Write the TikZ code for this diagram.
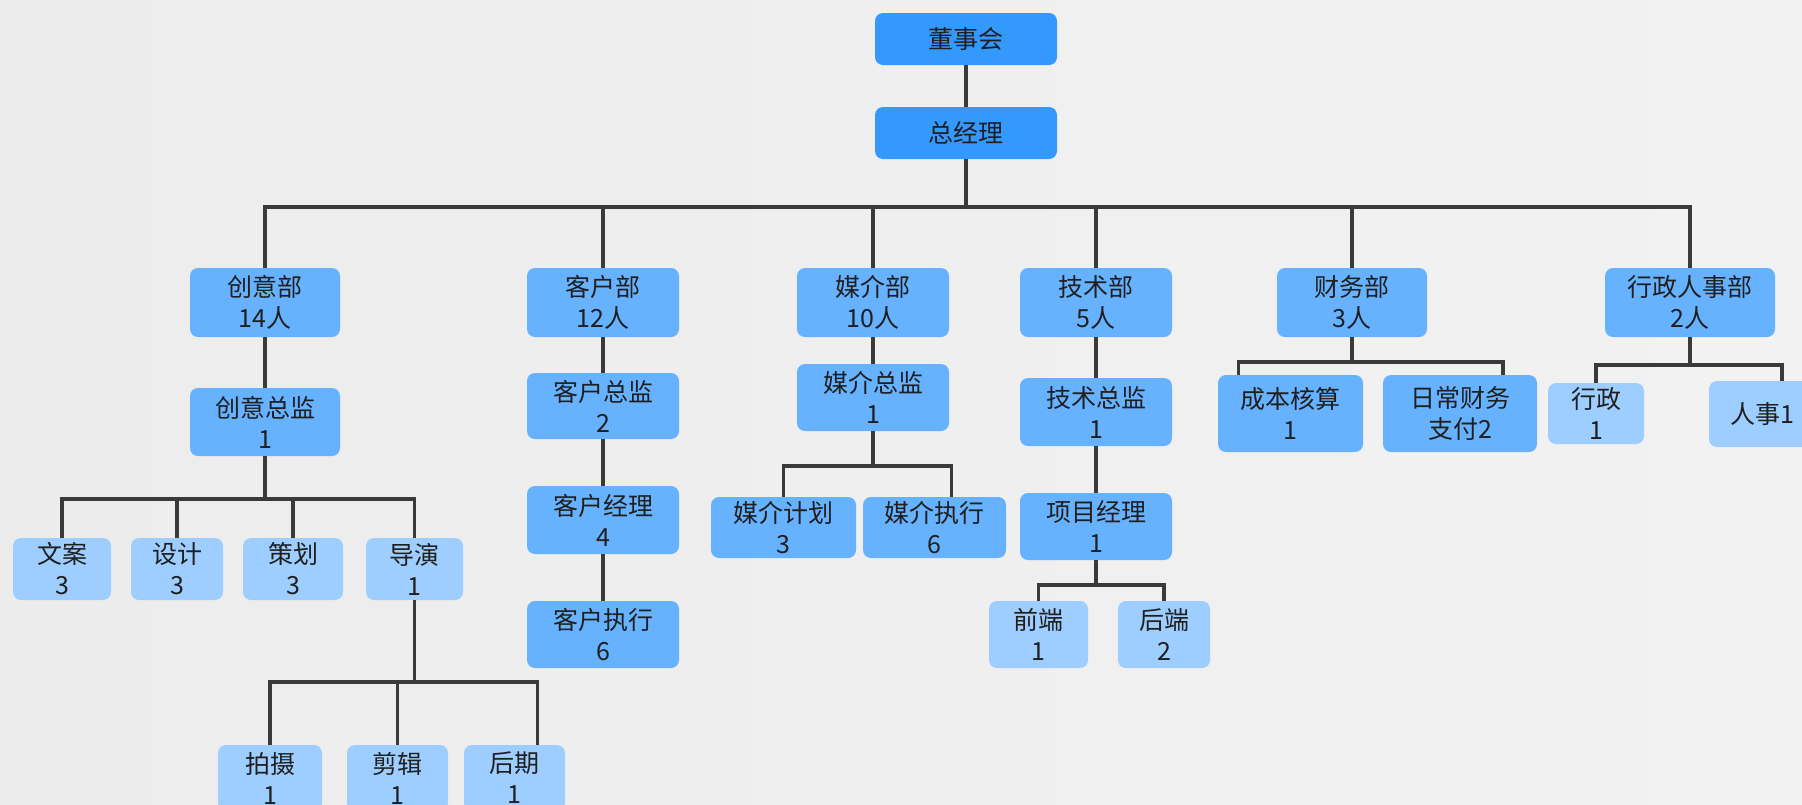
\documentclass[tikz,border=0pt]{standalone}
\usepackage{fontspec}
\setmainfont{Noto Sans CJK SC}

\begin{document}
\begin{tikzpicture}[x=1pt,y=-1pt]
        %%颜色与样式
        \definecolor{bg_left}{RGB}{236,236,236}
        \definecolor{bg_mid}{RGB}{249,249,249}
        \definecolor{bg_right}{RGB}{242,242,242}
        \definecolor{top_color}{RGB}{51,153,255}
        \definecolor{mid_color}{RGB}{102,178,255}
        \definecolor{leaf_color}{RGB}{157,206,255}
        \definecolor{line_color}{RGB}{58,58,58}
        \tikzset{box/.style = {rounded corners=8pt, inner sep=0, align=center, text=black!88,
                font=\fontsize{25}{31}\selectfont, minimum width=150, minimum height=68}}
        \tikzset{topbox/.style = {box, fill=top_color}}
        \tikzset{midbox/.style = {box, fill=mid_color}}
        \tikzset{leafbox/.style = {box, fill=leaf_color}}
        \tikzset{conn/.style = {draw=line_color, line width=3.5pt}}

        %%背景
        \useasboundingbox (0,0) rectangle (1802,804);
        \clip (0,0) rectangle (1802,804);
        \fill[left color=bg_left, middle color=bg_mid, right color=bg_right] (0,0) rectangle (1802,804);

        %%董事会 & 总经理
        \node[topbox, minimum width=182, minimum height=52] (dsh) at (966,39) {董事会};
        \node[topbox, minimum width=182, minimum height=52] (zjl) at (966,133) {总经理};

        %%各部门
        \node[midbox, minimum height=69] (cyb) at (265,302.5) {创意部\\14人};
        \node[midbox, minimum width=152, minimum height=69] (khb) at (603,302.5) {客户部\\12人};
        \node[midbox, minimum width=152, minimum height=69] (mjb) at (873,302.5) {媒介部\\10人};
        \node[midbox, minimum width=152, minimum height=69] (jsb) at (1096,302.5) {技术部\\5人};
        \node[midbox, minimum height=69] (cwb) at (1352,302.5) {财务部\\3人};
        \node[midbox, minimum width=170, minimum height=69] (xzb) at (1690,302.5) {行政人事部\\2人};

        %创意部
        \node[midbox] (cyzj) at (265,422) {创意总监\\1};
        \node[leafbox, minimum width=98, minimum height=62] (wa) at (62,569) {文案\\3};
        \node[leafbox, minimum width=92, minimum height=62] (sj) at (177,569) {设计\\3};
        \node[leafbox, minimum width=100, minimum height=62] (ch) at (293,569) {策划\\3};
        \node[leafbox, minimum width=97, minimum height=62] (dy) at (414.5,569) {导演\\1};
        \node[leafbox, minimum width=104, minimum height=66] (ps) at (270,778) {拍摄\\1};
        \node[leafbox, minimum width=101, minimum height=66] (jj) at (397.5,778) {剪辑\\1};
        \node[leafbox, minimum width=101, minimum height=66] (hq) at (514.5,778) {后期\\1};
        %客户部
        \node[midbox, minimum width=152, minimum height=66] (khzj) at (603,406) {客户总监\\2};
        \node[midbox, minimum width=152] (khjl) at (603,520) {客户经理\\4};
        \node[midbox, minimum width=152, minimum height=67] (khzx) at (603,634.5) {客户执行\\6};
        %媒介部
        \node[midbox, minimum width=152, minimum height=67] (mjzj) at (873,397.5) {媒介总监\\1};
        \node[midbox, minimum width=145, minimum height=61] (mjjh) at (783.5,527.5) {媒介计划\\3};
        \node[midbox, minimum width=143, minimum height=61] (mjzx) at (934.5,527.5) {媒介执行\\6};
        %技术部
        \node[midbox, minimum width=152] (jszj) at (1096,412) {技术总监\\1};
        \node[midbox, minimum width=152, minimum height=67] (xmjl) at (1096,526.5) {项目经理\\1};
        \node[leafbox, minimum width=99, minimum height=67] (qd) at (1038.5,634.5) {前端\\1};
        \node[leafbox, minimum width=92, minimum height=67] (hd) at (1164,634.5) {后端\\2};
        %财务部
        \node[midbox, minimum width=145, minimum height=77] (cbhs) at (1290.5,413.5) {成本核算\\1};
        \node[midbox, minimum width=154, minimum height=77] (rccw) at (1460,413.5) {日常财务\\支付2};
        %行政人事部
        \node[leafbox, minimum width=96, minimum height=61] (xz) at (1596,413.5) {行政\\1};
        \node[leafbox, minimum width=106, minimum height=66] (rs) at (1762,414) {人事1};

        %%连线
        \draw[conn] (dsh) -- (zjl);
        \coordinate (zbus) at (966,207);
        \foreach \dept in {cyb,khb,mjb,jsb,cwb,xzb}
            \draw[conn] (zjl.south) -- (zbus) -| (\dept.north);

        %创意部
        \draw[conn] (cyb) -- (cyzj);
        \coordinate (cybus) at (265,499);
        \foreach \sub in {wa,sj,ch,dy}
            \draw[conn] (cyzj.south) -- (cybus) -| (\sub.north);
        \coordinate (dybus) at (414.5,682);
        \draw[conn] (dy.south) -- (dybus) -| (ps.north);
        \draw[conn] (dy.south) -- (dybus) -| (jj.north);
        \draw[conn] (dy.south) -- (dybus) -| ([xshift=23]hq.north);
        %客户部
        \draw[conn] (khb) -- (khzj) (khzj) -- (khjl) (khjl) -- (khzx);
        %媒介部
        \draw[conn] (mjb) -- (mjzj);
        \coordinate (mjbus) at (873,466);
        \draw[conn] (mjzj.south) -- (mjbus) -| (mjjh.north);
        \draw[conn] (mjzj.south) -- (mjbus) -| ([xshift=17]mjzx.north);
        %技术部
        \draw[conn] (jsb) -- (jszj) (jszj) -- (xmjl);
        \coordinate (jsbus) at (1096,585);
        \draw[conn] (xmjl.south) -- (jsbus) -| (qd.north);
        \draw[conn] (xmjl.south) -- (jsbus) -| (hd.north);
        %财务部
        \coordinate (cwbus) at (1352,362);
        \draw[conn] (cwb.south) -- (cwbus) -| ([xshift=-52]cbhs.north);
        \draw[conn] (cwb.south) -- (cwbus) -| ([xshift=43]rccw.north);
        %行政人事部
        \coordinate (xzbus) at (1690,365);
        \draw[conn] (xzb.south) -- (xzbus) -| (xz.north);
        \draw[conn] (xzb.south) -- (xzbus) -| ([xshift=20]rs.north);
\end{tikzpicture}
\end{document}
